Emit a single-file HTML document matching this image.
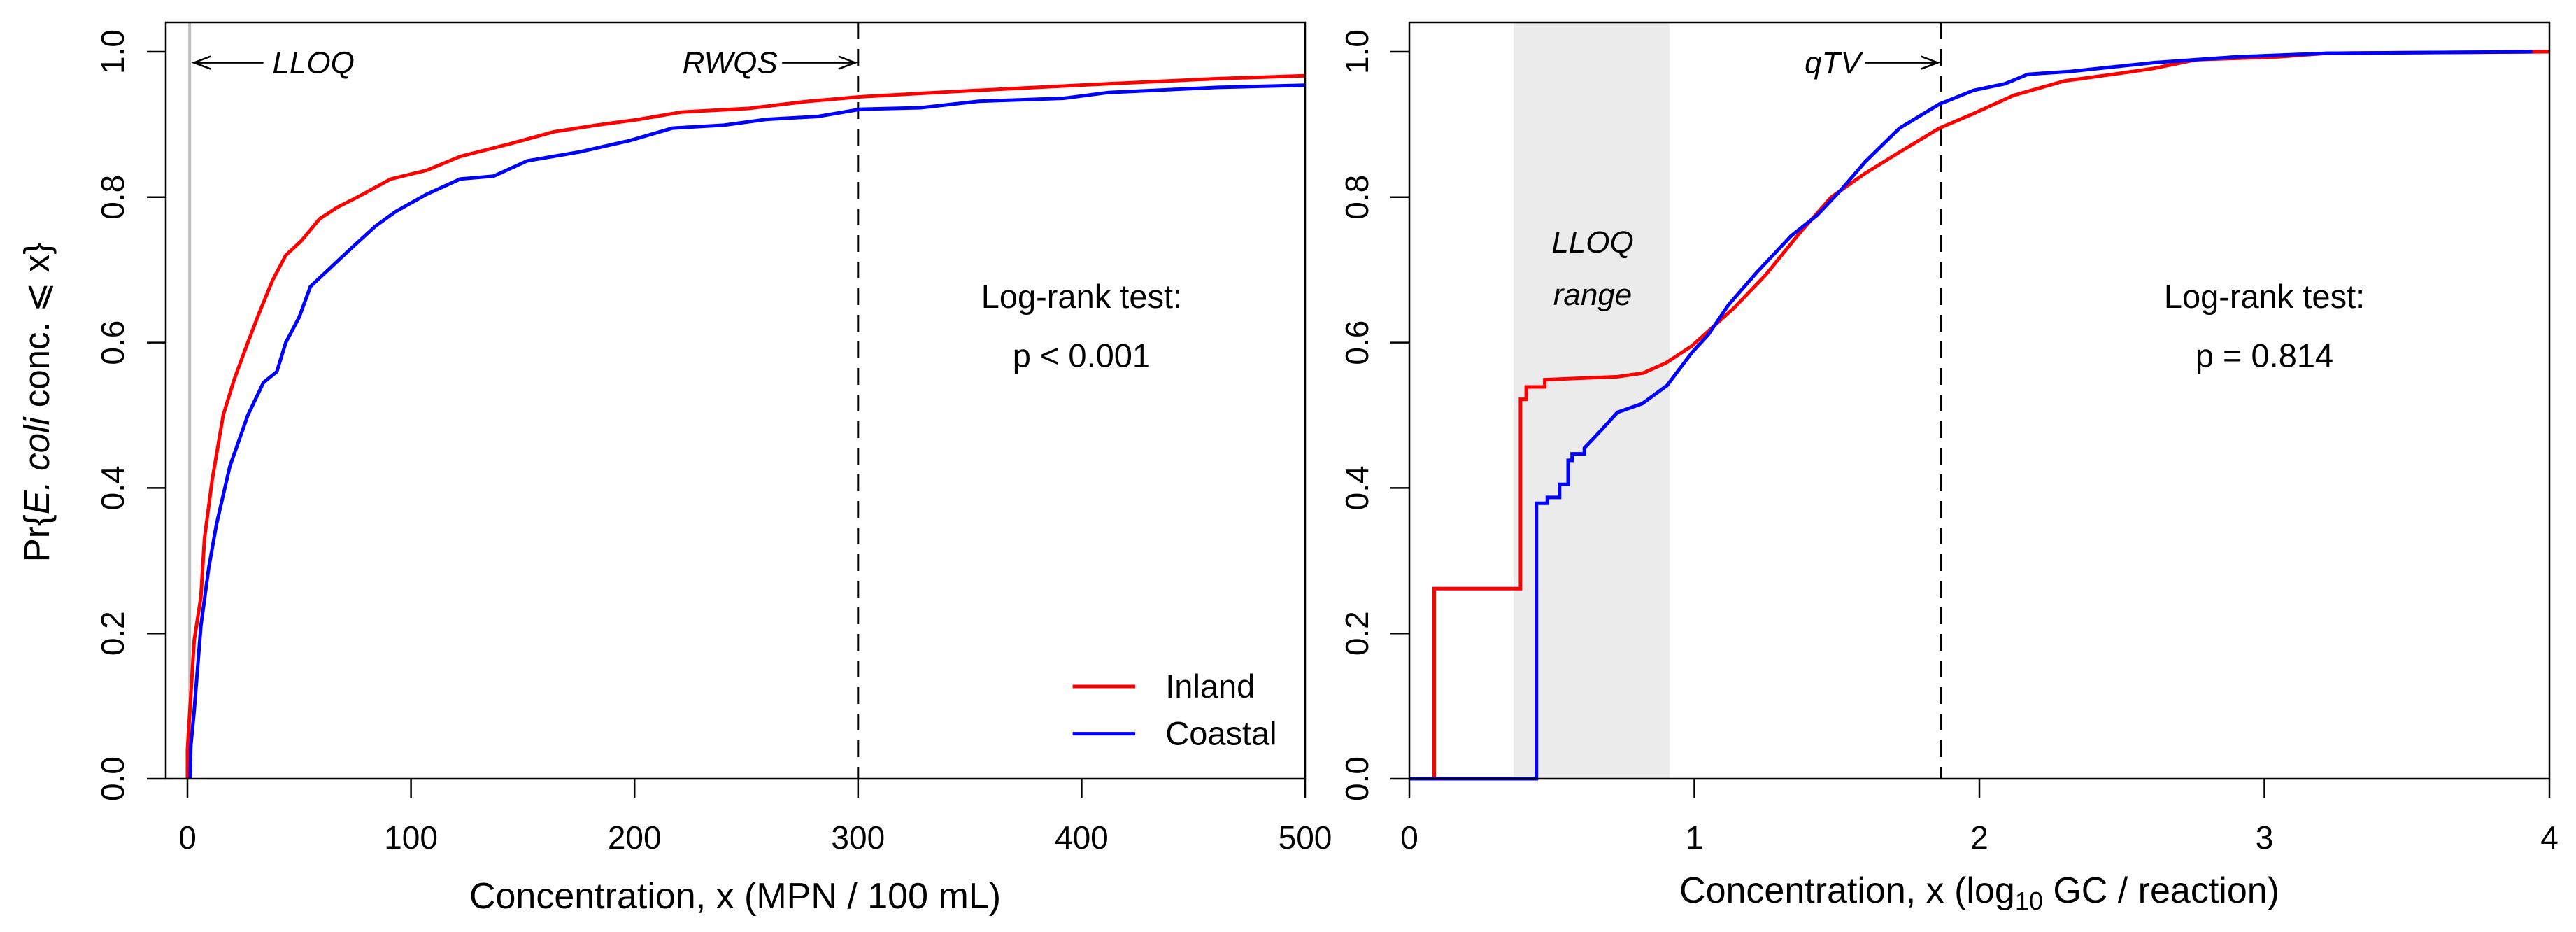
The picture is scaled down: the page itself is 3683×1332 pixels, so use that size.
<!DOCTYPE html>
<html><head><meta charset="utf-8"><style>
html,body{margin:0;padding:0;background:#fff}
svg{display:block;font-family:"Liberation Sans","DejaVu Sans",sans-serif}
</style></head><body>
<svg id="chart" width="3683" height="1332" viewBox="0 0 3683 1332" xmlns="http://www.w3.org/2000/svg">
<g id="left"></g>
<g id="right"></g>
</svg>
<script>
// Left panel data (MPN / 100 mL); repeated x values mark vertical jumps
const leftXTicks = [0,100,200,300,400,500];
const yTicks = [0,0.2,0.4,0.6,0.8,1.0];
const yTickLabels = ["0.0","0.2","0.4","0.6","0.8","1.0"];
const inlandX = [0,0,1,3,6,7.6,11,16,21,27,32,38,44,51,59,67,76,91,107,122,145,164,183,202,221,251,278,301,335,373,412,461,500];
const inlandY = [0,0.04,0.09,0.19,0.25,0.33,0.41,0.50,0.55,0.60,0.64,0.685,0.72,0.74,0.77,0.786,0.80,0.825,0.837,0.856,0.874,0.89,0.899,0.907,0.917,0.922,0.932,0.938,0.944,0.95,0.956,0.963,0.967];
const coastalX = [1.2,1.5,3,6,9.5,13,19,27,34,40,44,50,55,63,72,84,93,107,122,137,152,175,198,217,240,259,282,301,328,354,392,412,461,500];
const coastalY = [0,0.045,0.093,0.21,0.29,0.35,0.43,0.50,0.545,0.56,0.60,0.635,0.677,0.70,0.726,0.76,0.78,0.804,0.825,0.829,0.85,0.862,0.878,0.895,0.899,0.907,0.911,0.921,0.923,0.932,0.936,0.944,0.951,0.954];
const rwqs = 300, lloqLeft = 1;
// Right panel data (log10 GC / reaction)
const rightXTicks = [0,1,2,3,4];
const inlandQX = [0,0.087,0.087,0.39,0.39,0.41,0.41,0.475,0.475,0.73,0.82,0.90,0.99,1.14,1.25,1.37,1.48,1.60,1.72,1.86,1.98,2.12,2.30,2.47,2.61,2.76,3.05,3.22,4.0];
const inlandQY = [0,0,0.2615,0.2615,0.522,0.522,0.539,0.539,0.549,0.553,0.558,0.572,0.595,0.648,0.693,0.751,0.80,0.833,0.862,0.895,0.915,0.94,0.96,0.969,0.977,0.989,0.993,0.998,1.0];
const coastalQX = [0,0.446,0.446,0.484,0.484,0.527,0.527,0.557,0.557,0.571,0.571,0.614,0.614,0.672,0.73,0.817,0.904,0.991,1.049,1.12,1.22,1.34,1.43,1.51,1.60,1.72,1.86,1.98,2.09,2.17,2.32,2.61,2.90,3.22,3.94];
const coastalQY = [0,0,0.379,0.379,0.387,0.387,0.405,0.405,0.438,0.438,0.447,0.447,0.455,0.479,0.504,0.516,0.541,0.586,0.611,0.652,0.697,0.747,0.775,0.808,0.849,0.895,0.928,0.947,0.956,0.969,0.973,0.985,0.993,0.998,1.0];
const qtv = 1.864, lloqRange = [0.365,0.913];

const NS="http://www.w3.org/2000/svg";
const Y0=1113, YS=1039, TOP=32;
function sy(v){return Y0 - v*YS;}
function mk(tag, parent, attrs){const e=document.createElementNS(NS,tag);for(const k in attrs)e.setAttribute(k,attrs[k]);parent.appendChild(e);return e;}
function txt(parent, x, y, s, size, anchor, extra){const t=mk('text',parent,Object.assign({x:x,y:y,'font-size':size,'text-anchor':anchor||'middle',fill:'#000'},extra||{}));t.textContent=s;return t;}
function linePath(xs, ys, sx){let d='M'+sx(xs[0]).toFixed(1)+','+sy(ys[0]).toFixed(1);for(let i=1;i<xs.length;i++){d+=' L'+sx(xs[i]).toFixed(1)+','+sy(ys[i]).toFixed(1);}return d;}

function panel(g, boxL, boxR, sx, xTicks, xLabelFmt, ylabX){
  for(let i=0;i<yTicks.length;i++){
    const l=mk('line',g,{x1:boxL-27,x2:boxL,y1:sy(yTicks[i]),y2:sy(yTicks[i]),stroke:'#000','stroke-width':2.5});
    
    
    const t=txt(g,ylabX,sy(yTicks[i]),yTickLabels[i],46,'middle',{transform:'rotate(-90 '+ylabX+' '+sy(yTicks[i])+')'});
    
    
  }
  for(const v of xTicks){
    const l=mk('line',g,{x1:sx(v),x2:sx(v),y1:Y0,y2:Y0+27,stroke:'#000','stroke-width':2.5});
    
    
    const t=txt(g,sx(v),1213,xLabelFmt(v),46);
    
    
  }
}
function frame(g,boxL,boxR){
  const r=mk('rect',g,{x:boxL,y:TOP,width:boxR-boxL,height:Y0-TOP,fill:'none',stroke:'#000','stroke-width':2.5});
  
  
}
function arrow(g,x1,x2,y){
  mk('line',g,{x1:x1,x2:x2,y1:y,y2:y,stroke:'#000','stroke-width':2.5});
  const dir = x2>x1?-1:1;
  mk('path',g,{d:'M'+(x2+dir*24)+','+(y-9)+' L'+x2+','+y+' L'+(x2+dir*24)+','+(y+9),fill:'none',stroke:'#000','stroke-width':2.5});
}

// LEFT
const gl=document.getElementById('left');
const LL=237, LR=1866;
const sxL=v=>268+v/500*1598;
const lline=mk('line',gl,{x1:sxL(lloqLeft),x2:sxL(lloqLeft),y1:TOP,y2:Y0,stroke:'#bebebe','stroke-width':4});


const rw=mk('line',gl,{x1:sxL(rwqs),x2:sxL(rwqs),y1:TOP,y2:Y0,stroke:'#000','stroke-width':3,'stroke-dasharray':'24,14'});


const ri=mk('path',gl,{d:linePath(inlandX,inlandY,sxL),fill:'none',stroke:'#ff0000','stroke-width':5,'stroke-linejoin':'miter'});


const rc=mk('path',gl,{d:linePath(coastalX,coastalY,sxL),fill:'none',stroke:'#0000ff','stroke-width':5});


panel(gl,LL,LR,sxL,leftXTicks,v=>String(v),177);
frame(gl,LL,LR);
const ya=sy(0.985);
arrow(gl,sxL(34),sxL(lloqLeft)+6,ya);
const t1=txt(gl,sxL(38),ya+15,'LLOQ',44,'start',{'font-style':'italic'});
 
arrow(gl,sxL(266),sxL(rwqs)-4,ya);
const t2=txt(gl,sxL(264),ya+15,'RWQS',44,'end',{'font-style':'italic'});
 
const t3=txt(gl,sxL(400),sy(0.663)+16,'Log-rank test:',47);
 
const t4=txt(gl,sxL(400),sy(0.582)+16,'p < 0.001',47);
 
const lg=mk('g',gl,{});
 
mk('line',lg,{x1:sxL(396),x2:sxL(424),y1:sy(0.127),y2:sy(0.127),stroke:'#ff0000','stroke-width':5});
txt(lg,sxL(437.5),sy(0.127)+16,'Inland',47,'start');
mk('line',lg,{x1:sxL(396),x2:sxL(424),y1:sy(0.062),y2:sy(0.062),stroke:'#0000ff','stroke-width':5});
txt(lg,sxL(437.5),sy(0.062)+16,'Coastal',47,'start');
const xt=txt(gl,1051,1298,'Concentration, x (MPN / 100 mL)',52);
 
const ytt=mk('text',gl,{x:70,y:575,'font-size':51,'text-anchor':'middle',transform:'rotate(-90 70 575)'});
 
ytt.innerHTML='Pr{<tspan font-style="italic">E. coli</tspan> conc. ⩽ x}';

// RIGHT
const gr=document.getElementById('right');
const RL=2015, RR=3645;
const sxR=v=>2015+v/4*1630;
const band=mk('rect',gr,{x:sxR(lloqRange[0]),y:TOP,width:sxR(lloqRange[1])-sxR(lloqRange[0]),height:Y0-TOP,fill:'#ebebeb'});
 
const qd=mk('line',gr,{x1:sxR(qtv),x2:sxR(qtv),y1:TOP,y2:Y0,stroke:'#000','stroke-width':3,'stroke-dasharray':'24,14'});
 
const qi=mk('path',gr,{d:linePath(inlandQX,inlandQY,sxR),fill:'none',stroke:'#ff0000','stroke-width':5});
 
const qc=mk('path',gr,{d:linePath(coastalQX,coastalQY,sxR),fill:'none',stroke:'#0000ff','stroke-width':5});
 
panel(gr,RL,RR,sxR,rightXTicks,v=>String(v),1956);
frame(gr,RL,RR);
arrow(gr,sxR(1.60),sxR(qtv)-4,ya);
const t5=txt(gr,sxR(1.585),ya+15,'qTV',44,'end',{'font-style':'italic'});
 
const t6=txt(gr,sxR(0.643),sy(0.738)+15,'LLOQ',44,'middle',{'font-style':'italic'});
 
const t7=txt(gr,sxR(0.643),sy(0.666)+15,'range',44,'middle',{'font-style':'italic'});
 
const t8=txt(gr,sxR(3.0),sy(0.663)+16,'Log-rank test:',47);
 
const t9=txt(gr,sxR(3.0),sy(0.582)+16,'p = 0.814',47);
 
const xr=mk('text',gr,{x:2830,y:1290,'font-size':52,'text-anchor':'middle'});
 
xr.innerHTML='Concentration, x (log<tspan font-size="36" dy="10">10</tspan><tspan dy="-10"> GC / reaction)</tspan>';
</script>
</body></html>
